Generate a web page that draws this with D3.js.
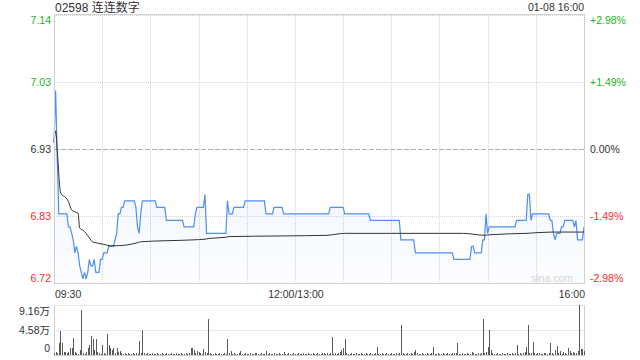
<!DOCTYPE html>
<html>
<head>
<meta charset="utf-8">
<script src="https://cdn.jsdelivr.net/npm/d3@7"></script>
<style>
  html, body { margin: 0; padding: 0; background: #fff; }
  svg { display: block; font-family: "Liberation Sans", Arial, "Noto Sans CJK SC", sans-serif; }
  .grid { stroke: #d4d4d4; stroke-dasharray: 1,1; shape-rendering: crispEdges; }
  .zero { stroke: #aaa; stroke-dasharray: 5,2; shape-rendering: crispEdges; }
  .frame { fill: none; stroke: #d0d0d0; shape-rendering: crispEdges; }
  .lbl { font-size: 10.5px; fill: #333; }
</style>
</head>
<body>
<div id="chart"></div>
<script>
// --- data ---
const title = "02598 连连数字";
const stamp = "01-08 16:00";
const prevClose = 6.93;
const pctLevels = [0.0298, 0.0149, 0, -0.0149, -0.0298];
const priceLabels = ["7.14", "7.03", "6.93", "6.83", "6.72"];
const pctLabels = ["+2.98%", "+1.49%", "0.00%", "-1.49%", "-2.98%"];
const timeTicks = [0, 150, 330];
const timeLabels = ["09:30", "12:00/13:00", "16:00"];
const volTicks = [9.16, 4.58, 0];
const volLabels = ["9.16万", "4.58万", "0"];

// minute prices as runs: [price, minutes]
const priceRuns = [
  [6.94, 1], [7.02, 1], [6.92, 1], [6.83, 6], [6.81, 2], [6.80, 1], [6.79, 1], [6.77, 1],
  [6.78, 1], [6.77, 1], [6.75, 1], [6.74, 1], [6.73, 1], [6.74, 1], [6.73, 1], [6.74, 1],
  [6.76, 1], [6.75, 2], [6.76, 1], [6.74, 3], [6.76, 2], [6.77, 3], [6.78, 4], [6.79, 1],
  [6.80, 1], [6.83, 2], [6.84, 2], [6.85, 7], [6.84, 1], [6.81, 1], [6.80, 1], [6.83, 1],
  [6.85, 9], [6.84, 6], [6.82, 11], [6.81, 7], [6.83, 1], [6.84, 5], [6.86, 1], [6.80, 13],
  [6.85, 1], [6.83, 3], [6.84, 7], [6.85, 13], [6.83, 5], [6.84, 6], [6.83, 29], [6.84, 9],
  [6.83, 16], [6.82, 19], [6.79, 9], [6.77, 24], [6.76, 11], [6.78, 2], [6.77, 5], [6.79, 2],
  [6.83, 1], [6.80, 1], [6.81, 17], [6.82, 7], [6.86, 2], [6.82, 1], [6.83, 11], [6.82, 2],
  [6.80, 1], [6.79, 1], [6.80, 3], [6.81, 2], [6.82, 6], [6.81, 1], [6.82, 1], [6.79, 4],
  [6.81, 1]
];

// average price line: [minute, price]
const avgPoints = [
  [0, 6.94], [1, 6.958], [2, 6.928], [4, 6.864], [5, 6.859], [7, 6.856], [9, 6.849],
  [11, 6.836], [13, 6.833], [15, 6.831], [16, 6.808], [18, 6.805], [20, 6.800],
  [22, 6.793], [24, 6.787], [27, 6.785], [31, 6.783], [35, 6.781], [40, 6.781],
  [45, 6.782], [51, 6.785], [54, 6.787], [87, 6.790], [94, 6.791], [96, 6.792],
  [107, 6.794], [109, 6.795], [142, 6.796], [170, 6.797], [181, 6.800], [255, 6.800],
  [268, 6.797], [272, 6.798], [294, 6.800], [310, 6.802], [330, 6.802]
];

// volume per minute, 万
const volumes = [
  0.3, 0.5, 0.3, 2.14, 4.45, 2.25, 0.6, 0.6, 0.42, 0.6, 1.22, 1.34, 3.17, 0.6, 0.42, 0.2, 0.92, 8.24, 0.42, 0.2, 0.6, 1.22, 1.83, 3.48, 2.88, 0.92, 2.93, 0.6, 0.3, 0.2,
  1.83, 0.42, 0.2, 3.85, 1.83, 1.22, 0.92, 1.22, 0.3, 1.22, 0.6, 0.8, 0.3, 0.2, 0.3, 0.2, 0.3, 0.2, 0.2, 0.3, 0.2, 0.3, 0.2, 2.56, 0.3, 4.58, 0.3, 0.2, 0.3, 0.2,
  0.2, 0.3, 0.2, 0.2, 0.3, 0.2, 0.2, 0.3, 0.2, 0.2, 0.3, 0.2, 0.2, 0.3, 0.2, 0.2, 0.3, 0.2, 0.2, 0.3, 0.2, 0.2, 0.3, 0.2, 0.3, 1.22, 1.34, 0.92, 0.3, 0.8,
  0.6, 0.42, 0.2, 1.1, 0.6, 0.3, 6.6, 0.3, 0.2, 0.2, 0.3, 0.2, 0.2, 0.3, 0.2, 0.2, 0.3, 0.2, 2.93, 0.3, 0.8, 0.2, 0.3, 0.2, 0.2, 0.3, 0.73, 0.2, 0.2, 0.3,
  0.2, 0.2, 0.3, 0.2, 0.2, 0.3, 0.42, 0.2, 0.2, 0.3, 0.2, 0.2, 0.73, 0.2, 0.3, 0.2, 0.2, 0.3, 0.2, 0.2, 0.3, 0.2, 0.2, 0.55, 0.2, 0.2, 0.3, 0.2, 0.2, 0.3,
  0.2, 0.2, 0.3, 0.2, 0.2, 0.3, 0.2, 0.2, 0.3, 0.2, 0.2, 0.3, 0.2, 0.2, 0.3, 0.2, 0.2, 0.3, 0.42, 0.2, 0.3, 0.2, 0.3, 3.35, 0.2, 0.3, 0.2, 0.3, 0.6, 0.92,
  1.22, 2.93, 0.3, 0.2, 0.2, 0.3, 0.2, 0.2, 0.3, 0.2, 0.2, 0.3, 0.2, 0.2, 0.3, 0.2, 0.2, 0.3, 0.2, 0.2, 0.3, 1.52, 0.2, 0.2, 0.3, 0.2, 0.2, 0.3, 0.2, 0.2,
  0.3, 0.2, 0.2, 0.3, 0.2, 0.3, 5.5, 0.3, 0.2, 0.2, 0.3, 0.2, 0.42, 0.2, 0.6, 0.92, 0.3, 0.2, 0.2, 0.3, 0.2, 0.2, 0.3, 0.2, 0.2, 0.3, 1.41, 0.2, 0.2, 0.3,
  0.2, 0.2, 0.3, 0.2, 0.2, 0.3, 0.2, 0.2, 0.3, 0.42, 0.3, 2.25, 0.2, 0.2, 0.3, 0.2, 0.2, 0.3, 0.2, 0.2, 0.6, 0.3, 0.2, 0.2, 0.3, 0.2, 0.42, 6.6, 0.3, 0.6,
  1.52, 4.58, 0.92, 0.3, 0.2, 0.2, 0.3, 0.2, 0.2, 0.3, 0.2, 0.2, 0.3, 0.2, 0.2, 0.3, 0.2, 0.3, 1.83, 0.2, 0.42, 0.2, 0.3, 0.6, 1.52, 5.5, 0.3, 0.42, 2.44, 0.3,
  0.2, 0.42, 0.3, 0.2, 0.2, 0.3, 0.3, 0.2, 0.3, 2.25, 0.3, 0.2, 0.92, 1.7, 0.3, 0.8, 0.2, 0.6, 0.3, 0.2, 1.22, 0.8, 0.3, 0.6, 0.42, 0.3, 0.8, 9.16, 1.1, 1.1,
  0.8
];

// --- colours ---
const colors = {
  up: "#1db31d",
  down: "#f02b2b",
  flat: "#333",
  price: "#4d8ff2",
  avg: "#333",
  vol: "#5a5a5a"
};

// --- layout ---
const width = 640, height = 360;
const left = 54, right = 584;
const pTop = 15, pBottom = 283;
const vTop = 305, vBottom = 355;

const prices = [];
priceRuns.forEach(([p, n]) => { for (let i = 0; i < n; i++) prices.push(p); });

const x = d3.scaleLinear().domain([0, 330]).range([left, right]);
const y = d3.scaleLinear()
  .domain([prevClose * (1 - 0.0298), prevClose * (1 + 0.0298)])
  .range([pBottom, pTop]);
const yv = d3.scaleLinear().domain([0, 9.16]).range([vBottom, vTop]);

const svg = d3.select("#chart").append("svg")
  .attr("width", width).attr("height", height);

const defs = svg.append("defs");
const grad = defs.append("linearGradient")
  .attr("id", "fillGrad")
  .attr("gradientUnits", "userSpaceOnUse")
  .attr("x1", 0).attr("x2", 0).attr("y1", pTop).attr("y2", pBottom);
grad.append("stop").attr("offset", "0%").attr("stop-color", "#4d8ff2").attr("stop-opacity", 0.16);
grad.append("stop").attr("offset", "100%").attr("stop-color", "#4d8ff2").attr("stop-opacity", 0.02);

// vertical grid, every 30 minutes
const gridMins = d3.range(30, 330, 30);
svg.append("g").selectAll("line").data(gridMins).enter().append("line")
  .attr("class", "grid")
  .attr("x1", d => Math.round(x(d)) + 0.5).attr("x2", d => Math.round(x(d)) + 0.5)
  .attr("y1", pTop).attr("y2", pBottom);

// horizontal grid
svg.append("g").selectAll("line").data(pctLevels).enter().append("line")
  .attr("class", d => d === 0 ? "zero" : "grid")
  .attr("x1", left).attr("x2", right)
  .attr("y1", d => Math.round(y(prevClose * (1 + d))) + 0.5)
  .attr("y2", d => Math.round(y(prevClose * (1 + d))) + 0.5);

// price area + lines
const area = d3.area()
  .x((d, i) => x(i))
  .y0(pBottom)
  .y1(d => y(d));
svg.append("path").datum(prices)
  .attr("d", area)
  .attr("fill", "url(#fillGrad)");

const priceLine = d3.line().x((d, i) => x(i)).y(d => y(d));
svg.append("path").datum(prices)
  .attr("d", priceLine)
  .attr("fill", "none")
  .attr("stroke", colors.price)
  .attr("stroke-width", 1.2);

const avgLine = d3.line().x(d => x(d[0])).y(d => y(d[1])).curve(d3.curveMonotoneX);
svg.append("path").datum(avgPoints)
  .attr("d", avgLine)
  .attr("fill", "none")
  .attr("stroke", colors.avg)
  .attr("stroke-width", 1);

// frame
svg.append("rect").attr("class", "frame")
  .attr("x", left + 0.5).attr("y", pTop - 0.5)
  .attr("width", right - left).attr("height", pBottom - pTop + 1);

// watermark
svg.append("text")
  .attr("x", 531).attr("y", 282)
  .attr("font-size", "10.5px")
  .attr("fill", "#d4d4d4")
  .text("sina.com");

// left / right price labels
const labelY = (d, i) => {
  const ly = y(prevClose * (1 + d));
  if (i === 0) return ly + 9;
  if (i === pctLevels.length - 1) return ly - 1.5;
  return ly + 4;
};
const labelColor = d => d > 0 ? colors.up : (d < 0 ? colors.down : colors.flat);

svg.append("g").selectAll("text").data(pctLevels).enter().append("text")
  .attr("class", "lbl")
  .attr("x", left - 3)
  .attr("y", labelY)
  .attr("text-anchor", "end")
  .style("fill", labelColor)
  .text((d, i) => priceLabels[i]);

svg.append("g").selectAll("text").data(pctLevels).enter().append("text")
  .attr("class", "lbl")
  .attr("x", right + 6)
  .attr("y", labelY)
  .style("fill", labelColor)
  .text((d, i) => pctLabels[i]);

// time labels
svg.append("g").selectAll("text").data(timeTicks).enter().append("text")
  .attr("class", "lbl")
  .attr("x", d => x(d) + 1)
  .attr("y", 297.5)
  .attr("text-anchor", (d, i) => i === 0 ? "start" : (i === timeTicks.length - 1 ? "end" : "middle"))
  .text((d, i) => timeLabels[i]);

// header
svg.append("text")
  .attr("x", 55).attr("y", 11.5)
  .attr("font-size", "12px")
  .attr("fill", "#333")
  .text(title);
svg.append("text")
  .attr("class", "lbl")
  .attr("x", right).attr("y", 11)
  .attr("text-anchor", "end")
  .text(stamp);

// volume panel
svg.append("g").selectAll("line").data(volTicks.slice(0, 2)).enter().append("line")
  .attr("class", "grid")
  .attr("x1", left).attr("x2", right)
  .attr("y1", d => Math.round(yv(d)) + 0.5).attr("y2", d => Math.round(yv(d)) + 0.5);

const vFrame = svg.append("g").attr("stroke", "#d0d0d0").attr("shape-rendering", "crispEdges");
vFrame.append("line").attr("x1", left + 0.5).attr("x2", left + 0.5).attr("y1", vTop).attr("y2", vBottom + 0.5);
vFrame.append("line").attr("x1", right + 0.5).attr("x2", right + 0.5).attr("y1", vTop).attr("y2", vBottom + 0.5);
vFrame.append("line").attr("x1", left).attr("x2", right + 1).attr("y1", vBottom + 0.5).attr("y2", vBottom + 0.5);

svg.append("g").selectAll("line").data(volumes).enter().append("line")
  .attr("x1", (d, i) => Math.round(x(i)) + 0.5)
  .attr("x2", (d, i) => Math.round(x(i)) + 0.5)
  .attr("y1", vBottom)
  .attr("y2", d => yv(d))
  .attr("stroke", colors.vol)
  .attr("stroke-width", 1)
  .attr("shape-rendering", "crispEdges");

svg.append("g").selectAll("text").data(volTicks).enter().append("text")
  .attr("class", "lbl")
  .attr("x", left - 4)
  .attr("y", (d, i) => i === 0 ? yv(d) + 10 : (i === volTicks.length - 1 ? yv(d) - 3 : yv(d) + 4))
  .attr("text-anchor", "end")
  .text((d, i) => volLabels[i]);
</script>
</body>
</html>
